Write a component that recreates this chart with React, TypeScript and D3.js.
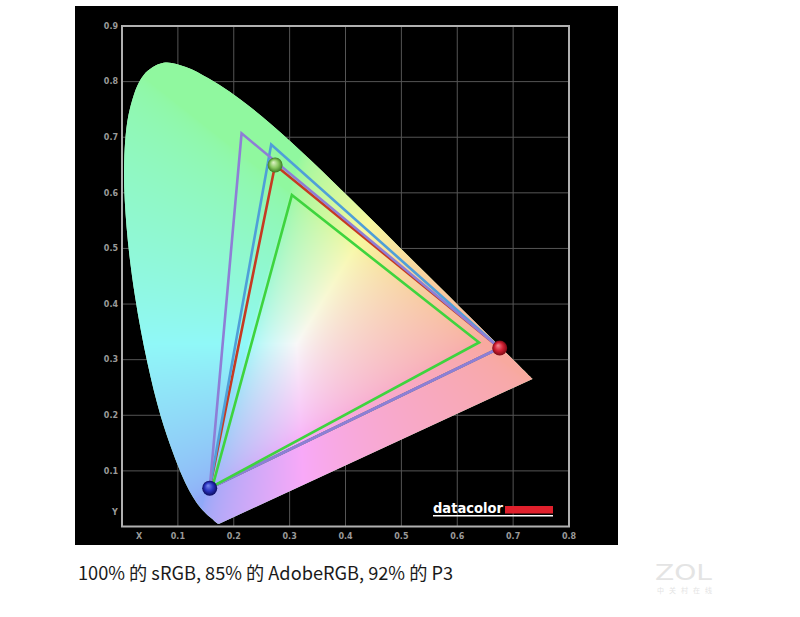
import React, { useEffect, useState } from 'react';
import * as d3 from 'd3';

const W = 800;
const H = 617;

// axis ticks
const xTicks = [0.1, 0.2, 0.3, 0.4, 0.5, 0.6, 0.7, 0.8];
const yTicks = [0.1, 0.2, 0.3, 0.4, 0.5, 0.6, 0.7, 0.8, 0.9];
const gridX = [0.1, 0.2, 0.3, 0.4, 0.5, 0.6, 0.7];
const gridY = [0.1, 0.2, 0.3, 0.4, 0.5, 0.6, 0.7, 0.8];

// CIE 1931 spectral locus (380..700nm)
const locusX = [0.1741, 0.1740, 0.1738, 0.1736, 0.1733, 0.1730, 0.1726, 0.1721, 0.1714, 0.1703, 0.1689, 0.1669, 0.1644, 0.1611, 0.1566, 0.1510, 0.1440, 0.1355, 0.1241, 0.1096, 0.0913, 0.0687, 0.0454, 0.0235, 0.0082, 0.0039, 0.0139, 0.0389, 0.0743, 0.1142, 0.1547, 0.1929, 0.2296, 0.2658, 0.3016, 0.3373, 0.3731, 0.4087, 0.4441, 0.4788, 0.5125, 0.5448, 0.5752, 0.6029, 0.6270, 0.6482, 0.6658, 0.6801, 0.6915, 0.7006, 0.7079, 0.7140, 0.7190, 0.7230, 0.7260, 0.7283, 0.7300, 0.7311, 0.7320, 0.7334, 0.7344, 0.7347];
const locusY = [0.0050, 0.0050, 0.0049, 0.0049, 0.0048, 0.0048, 0.0048, 0.0048, 0.0051, 0.0058, 0.0069, 0.0086, 0.0109, 0.0138, 0.0177, 0.0227, 0.0297, 0.0399, 0.0578, 0.0868, 0.1327, 0.2007, 0.2950, 0.4127, 0.5384, 0.6548, 0.7502, 0.8120, 0.8338, 0.8262, 0.8059, 0.7816, 0.7543, 0.7243, 0.6923, 0.6589, 0.6245, 0.5896, 0.5547, 0.5202, 0.4866, 0.4544, 0.4242, 0.3965, 0.3725, 0.3514, 0.3340, 0.3197, 0.3083, 0.2993, 0.2920, 0.2859, 0.2809, 0.2770, 0.2740, 0.2717, 0.2700, 0.2689, 0.2680, 0.2666, 0.2656, 0.2653];

// gamut triangles (R, G, B vertices)
const measuredX = [0.676, 0.274, 0.157];
const measuredY = [0.321, 0.650, 0.069];
const adobeX = [0.676, 0.214, 0.157];
const adobeY = [0.321, 0.707, 0.069];
const p3X = [0.676, 0.267, 0.157];
const p3Y = [0.321, 0.687, 0.069];
const srgbX = [0.639, 0.304, 0.162];
const srgbY = [0.331, 0.596, 0.072];

const caption = '100% 的 sRGB, 85% 的 AdobeRGB, 92% 的 P3';

// per-channel pastel floors (R, G, B)
const floors = [0.58, 0.68, 0.64];

function chroma(cx: number, cy: number): [number, number, number] {
  const yy = Math.max(cy, 0.003);
  const X = cx / yy;
  const Z = (1 - cx - yy) / yy;
  let r = 3.2406 * X - 1.5372 - 0.4986 * Z;
  let g = -0.9689 * X + 1.8758 + 0.0415 * Z;
  let b = 0.0557 * X - 0.204 + 1.057 * Z;
  r = Math.max(r, 0); g = Math.max(g, 0); b = Math.max(b, 0);
  const m = Math.max(r, g, b) || 1;
  const v = [r / m, g / m, b / m];
  const out = v.map((c, i) => 248 * (floors[i] + (1 - floors[i]) * Math.pow(c, 1 / 1.8)));
  return [out[0], out[1], out[2]];
}

export default function App() {
  const [img, setImg] = useState<string | null>(null);
  const x = d3.scaleLinear().domain([0, 0.8]).range([122, 569]);
  const y = d3.scaleLinear().domain([0, 0.9]).range([526.5, 26]);
  const [px0, px1] = x.range();
  const [py0, py1] = y.range();

  useEffect(() => {
    const w = Math.ceil(px1 - px0);
    const h = Math.ceil(py0 - py1);
    const c = document.createElement('canvas');
    c.width = w; c.height = h;
    const ctx = c.getContext('2d');
    if (!ctx) return;
    const id = ctx.createImageData(w, h);
    for (let j = 0; j < h; j++) {
      for (let i = 0; i < w; i++) {
        const cx = x.invert(px0 + i + 0.5);
        const cy = y.invert(py1 + j + 0.5);
        const [r, g, b] = chroma(cx, cy);
        const k = (j * w + i) * 4;
        id.data[k] = r; id.data[k + 1] = g; id.data[k + 2] = b; id.data[k + 3] = 255;
      }
    }
    ctx.putImageData(id, 0, 0);
    setImg(c.toDataURL());
  }, []);

  const pts = (xs: number[], ys: number[]) => xs.map((v, i) => [v, ys[i]] as [number, number]);
  const line = d3.line<[number, number]>().x(d => x(d[0])).y(d => y(d[1])).curve(d3.curveLinearClosed);
  const smooth = d3.line<[number, number]>().x(d => x(d[0])).y(d => y(d[1])).curve(d3.curveCatmullRom.alpha(0.5));
  const locusPath = (smooth(pts(locusX, locusY)) || '') + 'Z';

  const tris = [
    { xs: measuredX, ys: measuredY, color: '#c63a22' },
    { xs: p3X, ys: p3Y, color: '#4f9fd8' },
    { xs: adobeX, ys: adobeY, color: '#8e7ed6' },
    { xs: srgbX, ys: srgbY, color: '#3ed43e' },
  ];

  const spheres = [
    { cx: measuredX[1], cy: measuredY[1], id: 'sg', c: ['#e0f4c8', '#88c860', '#3a7a20'] },
    { cx: measuredX[0], cy: measuredY[0], id: 'sr', c: ['#f48890', '#d42236', '#7a0a14'] },
    { cx: measuredX[2], cy: measuredY[2], id: 'sb', c: ['#7a8cf0', '#2a34c0', '#0c0c60'] },
  ];

  return (
    <svg width={W} height={H} style={{ position: 'absolute', left: 0, top: 0, background: '#fff' }}>
      <defs>
        <clipPath id="locusClip"><path d={locusPath} /></clipPath>
        {spheres.map(s => (
          <radialGradient key={s.id} id={s.id} cx="50%" cy="50%" r="50%" fx="38%" fy="32%">
            <stop offset="0%" stopColor={s.c[0]} />
            <stop offset="55%" stopColor={s.c[1]} />
            <stop offset="100%" stopColor={s.c[2]} />
          </radialGradient>
        ))}
      </defs>
      <rect x={75} y={6} width={543} height={539} fill="#000" />
      {/* grid */}
      {gridX.map(t => (
        <line key={'gx' + t} x1={x(t)} x2={x(t)} y1={py1} y2={py0} stroke="#555" strokeWidth={1} />
      ))}
      {gridY.map(t => (
        <line key={'gy' + t} x1={px0} x2={px1} y1={y(t)} y2={y(t)} stroke="#555" strokeWidth={1} />
      ))}
      {/* locus */}
      <path d={locusPath} fill="#a8f0b4" />
      {img && (
        <image href={img} x={px0} y={py1} width={Math.ceil(px1 - px0)} height={Math.ceil(py0 - py1)}
          clipPath="url(#locusClip)" preserveAspectRatio="none" />
      )}
      {/* frame */}
      <rect x={px0} y={py1} width={px1 - px0} height={py0 - py1} fill="none" stroke="#b0b0b0" strokeWidth={2} />
      {/* tick labels */}
      {yTicks.map(t => (
        <text key={'yl' + t} x={118} y={y(t)} dy="0.35em" textAnchor="end" fill="#9a9a9a"
          fontFamily="DejaVu Sans" fontWeight="bold" fontSize={8}>{t.toFixed(1)}</text>
      ))}
      {xTicks.map(t => (
        <text key={'xl' + t} x={x(t)} y={536} dy="0.35em" textAnchor="middle" fill="#9a9a9a"
          fontFamily="DejaVu Sans" fontWeight="bold" fontSize={8}>{t.toFixed(1)}</text>
      ))}
      <text x={139} y={536} dy="0.35em" textAnchor="middle" fill="#9a9a9a" fontFamily="DejaVu Sans" fontWeight="bold" fontSize={8}>X</text>
      <text x={115} y={512} dy="0.35em" textAnchor="middle" fill="#9a9a9a" fontFamily="DejaVu Sans" fontWeight="bold" fontSize={8}>Y</text>
      {/* triangles */}
      {tris.map((t, i) => (
        <path key={'t' + i} d={line(pts(t.xs, t.ys)) || ''} fill="none" stroke={t.color} strokeWidth={2.6} strokeLinejoin="miter" />
      ))}
      {/* spheres */}
      {spheres.map(s => (
        <circle key={s.id} cx={x(s.cx)} cy={y(s.cy)} r={7.5} fill={`url(#${s.id})`} />
      ))}
      {/* datacolor logo */}
      <text x={433} y={513} fill="#fff" fontFamily="DejaVu Sans" fontWeight="bold" fontSize={14}
        textLength={70} lengthAdjust="spacingAndGlyphs">datacolor</text>
      <rect x={505} y={506} width={48} height={7.5} fill="#e0202c" />
      <line x1={433} x2={553} y1={515.8} y2={515.8} stroke="#fff" strokeWidth={1.4} />
      {/* caption */}
      <text x={78} y={580} fill="#1a1a1a" fontFamily="'Noto Sans CJK SC', 'Noto Sans', sans-serif" fontSize={18.2}>{caption}</text>
      {/* watermark */}
      <text x={655} y={580} fill="#e4e4e4" fontFamily="'DejaVu Sans', sans-serif" fontSize={21}
        textLength={57} lengthAdjust="spacingAndGlyphs">ZOL</text>
      <text x={657} y={593} fill="#e4e4e4" fontFamily="'Noto Sans CJK SC', sans-serif" fontSize={7}
        textLength={55} lengthAdjust="spacing">中关村在线</text>
    </svg>
  );
}
